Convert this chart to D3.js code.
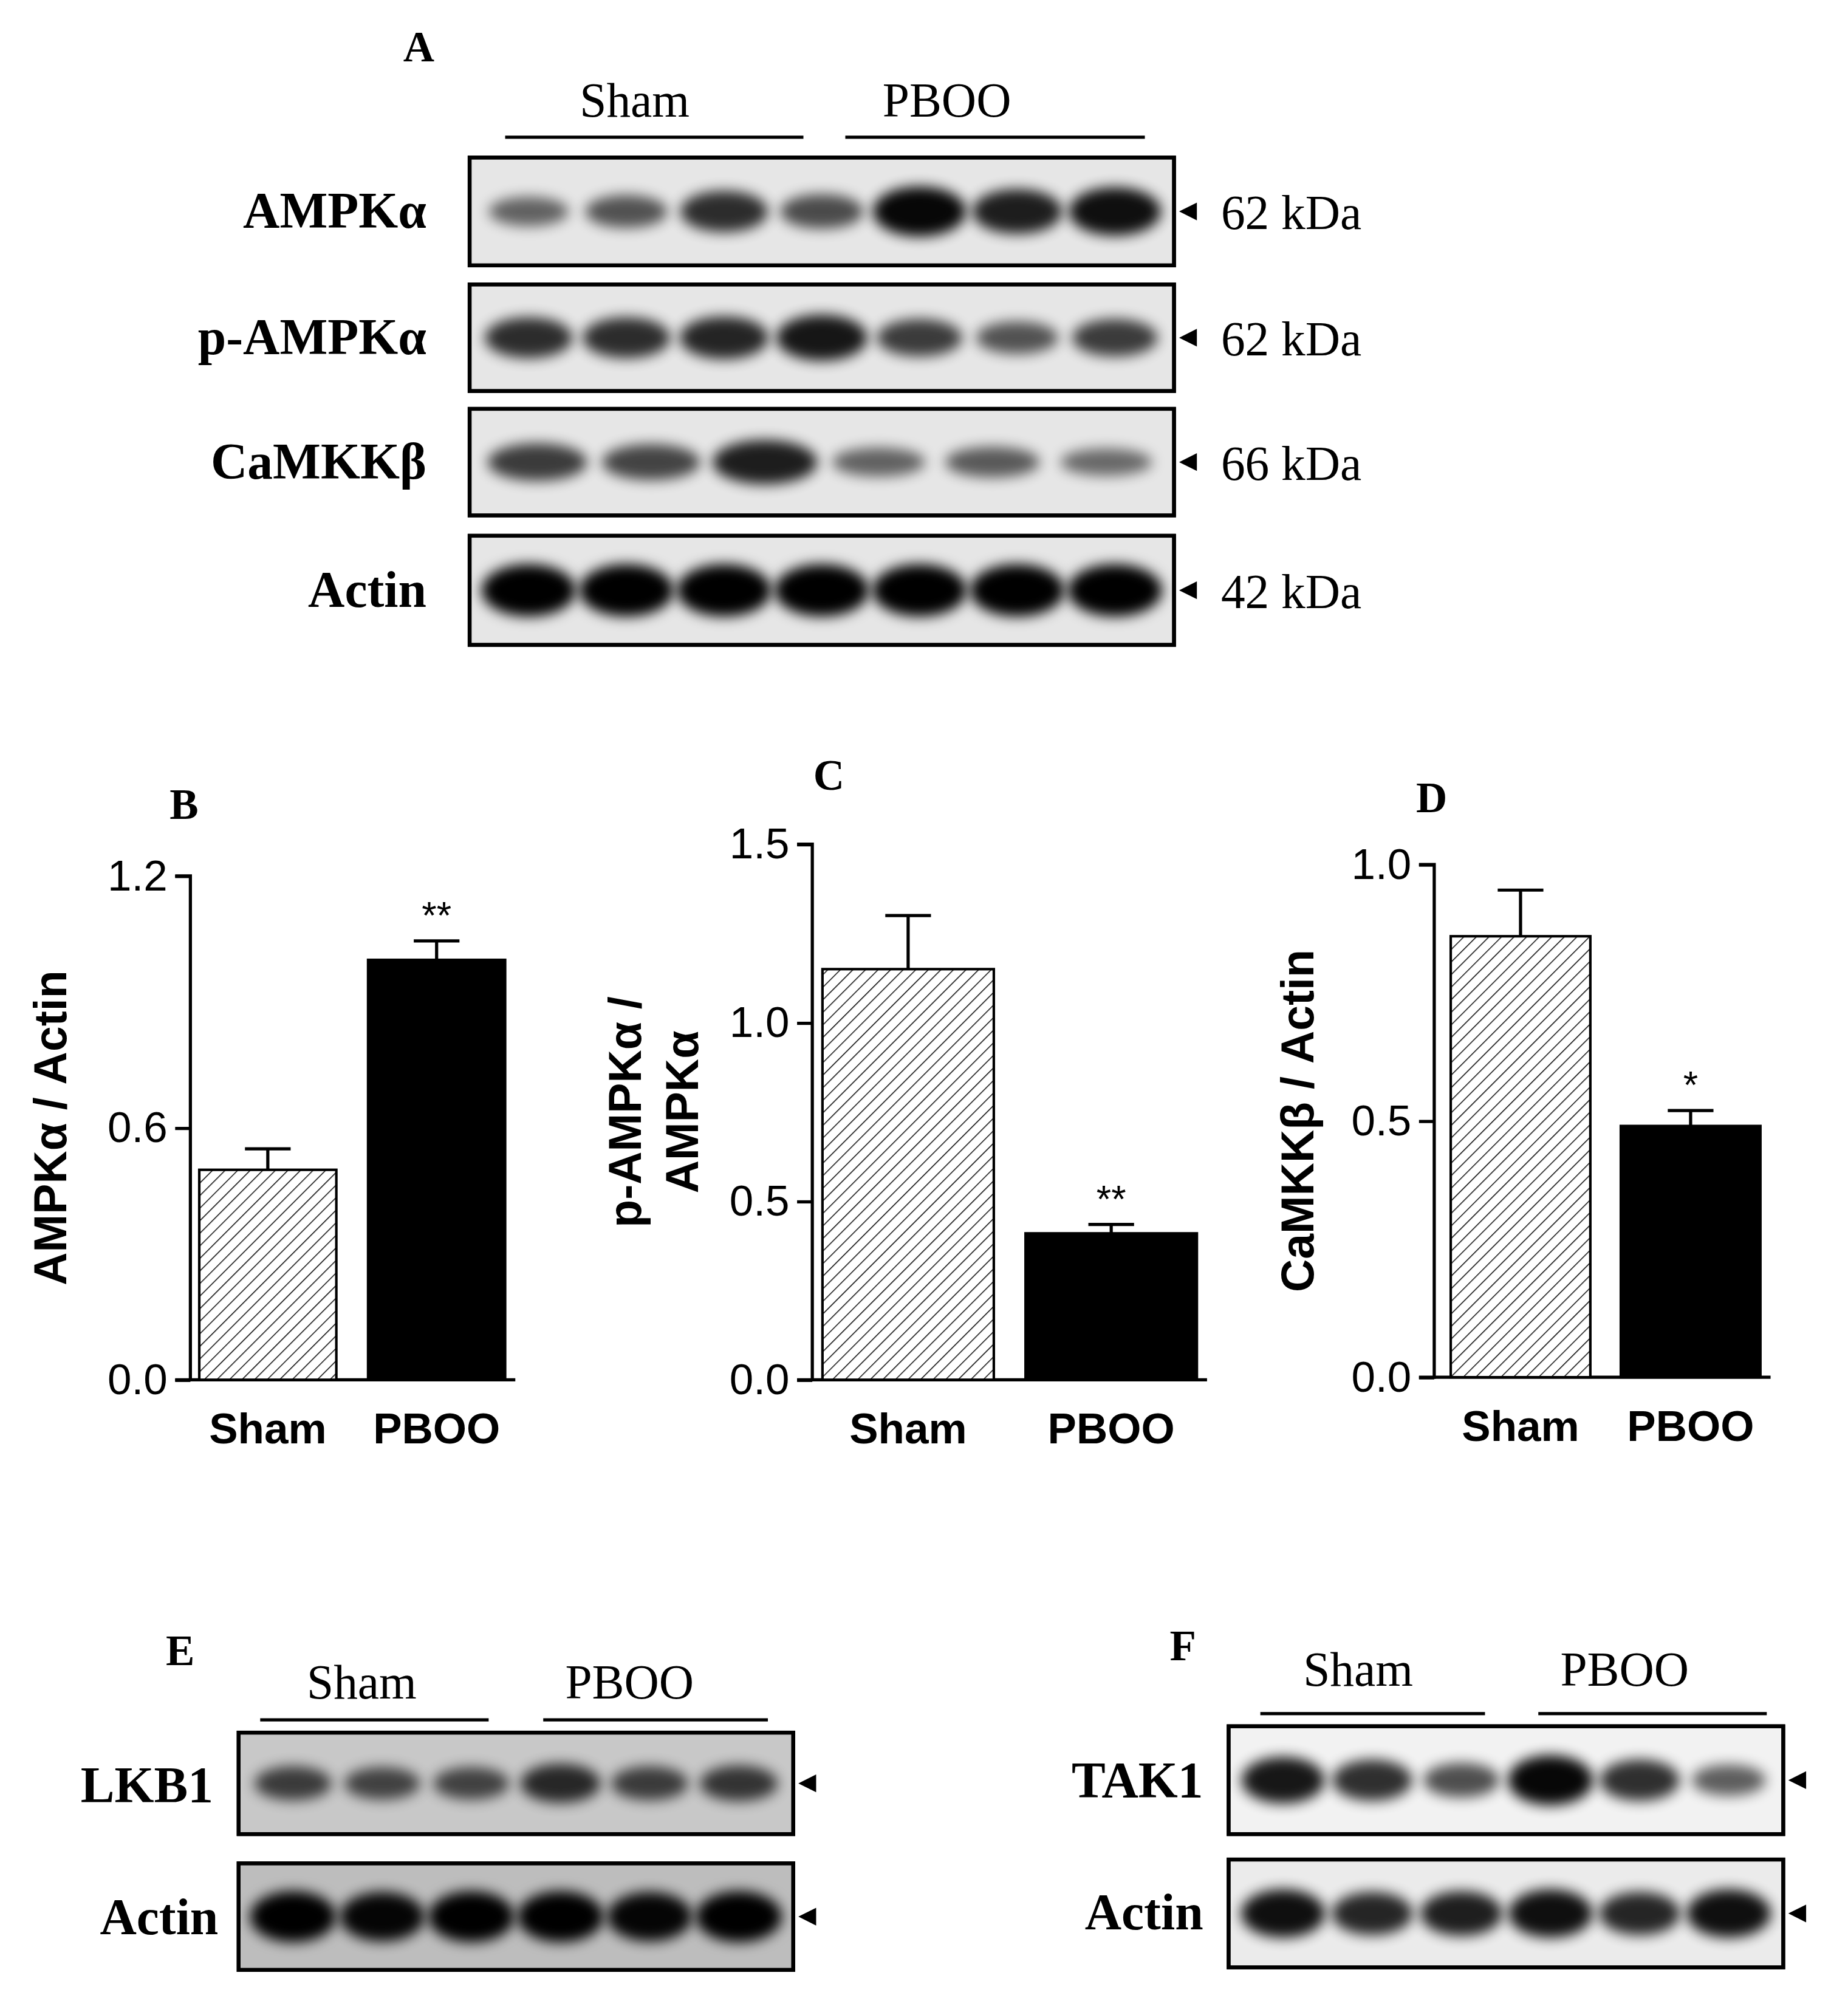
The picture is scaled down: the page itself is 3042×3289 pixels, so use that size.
<!DOCTYPE html>
<html>
<head>
<meta charset="utf-8">
<script src="https://d3js.org/d3.v7.min.js"></script>
<style>
body{margin:0;background:#fff;}
text.serif{font-family:"Liberation Serif","Times New Roman",serif;}
text.sans{font-family:"Liberation Sans",Arial,sans-serif;}
</style>
</head>
<body>
<script>
// ---- data ----
const groups = ["Sham", "PBOO"];
const panelB = {letter:"B", label:["AMPKα / Actin"], ticks:[0.0,0.6,1.2], max:1.2, means:[0.5,1.0], errs:[0.05,0.045], stars:["","**"]};
const panelC = {letter:"C", label:["p-AMPKα /","AMPKα"], ticks:[0.0,0.5,1.0,1.5], max:1.5, means:[1.15,0.41], errs:[0.15,0.025], stars:["","**"]};
const panelD = {letter:"D", label:["CaMKKβ / Actin"], ticks:[0.0,0.5,1.0], max:1.0, means:[0.86,0.49], errs:[0.09,0.03], stars:["","*"]};
const blotA = ["AMPKα","p-AMPKα","CaMKKβ","Actin"];
const blotAkDa = ["62 kDa","62 kDa","66 kDa","42 kDa"];
const bandsA = [
  [0.35,0.45,0.7,0.5,0.95,0.8,0.9],
  [0.7,0.7,0.75,0.85,0.6,0.45,0.6],
  [0.6,0.55,0.8,0.35,0.4,0.3],
  [1,1,1,1,1,1,1]
];
const blotE = ["LKB1","Actin"];
const bandsE = [[0.55,0.5,0.5,0.7,0.55,0.6],[1,0.95,1,1,0.95,1]];
const blotF = ["TAK1","Actin"];
const bandsF = [[0.85,0.7,0.5,0.95,0.7,0.4],[0.9,0.75,0.8,0.9,0.75,0.9]];

const W = 1456, H = 1574;
const svg = d3.select("body").append("svg")
  .attr("width", 3042).attr("height", 3289)
  .attr("viewBox", `0 0 ${W} ${H}`);

const defs = svg.append("defs");
defs.append("filter").attr("id","blur").attr("x","-30%").attr("y","-100%").attr("width","160%").attr("height","300%")
  .append("feGaussianBlur").attr("stdDeviation", 5);
const pat = defs.append("pattern").attr("id","hatch").attr("patternUnits","userSpaceOnUse")
  .attr("width",7).attr("height",7).attr("patternTransform","rotate(45)");
pat.append("rect").attr("width",7).attr("height",7).attr("fill","#fff");
pat.append("line").attr("x1",0).attr("y1",0).attr("x2",0).attr("y2",7).attr("stroke","#000").attr("stroke-width",1.4);

function txt(x, y, s, size, cls, anchor="middle", weight="normal"){
  return svg.append("text").attr("class",cls).attr("x",x).attr("y",y)
    .attr("text-anchor",anchor).attr("font-size",size).attr("font-weight",weight).text(s);
}

function blot(x0, x1, y0, y1, bands, bg){
  const g = svg.append("g");
  g.append("rect").attr("x",x0).attr("y",y0).attr("width",x1-x0).attr("height",y1-y0)
    .attr("fill",bg).attr("stroke","#000").attr("stroke-width",3);
  const xs = d3.scaleBand().domain(d3.range(bands.length)).range([x0+5,x1-5]).padding(0.08);
  const cy = (y0+y1)/2;
  g.selectAll("ellipse").data(bands).join("ellipse")
    .attr("cx", (d,i)=>xs(i)+xs.bandwidth()/2).attr("cy", cy)
    .attr("rx", d=>xs.bandwidth()/2*(0.8+0.25*d))
    .attr("ry", d=>(y1-y0)*(0.08+0.16*d))
    .attr("fill","#000").attr("opacity", d=>0.35+0.65*d)
    .attr("filter","url(#blur)");
  g.append("rect").attr("x",x0).attr("y",y0).attr("width",x1-x0).attr("height",y1-y0)
    .attr("fill","none").attr("stroke","#000").attr("stroke-width",3);
  // arrowhead
  svg.append("path").attr("d",`M${x1+4},${cy} l14,-7 v14 z`).attr("fill","#000");
}

// ---- panel A ----
txt(330, 48, "A", 34, "serif", "middle", "bold");
txt(500, 92, groups[0], 38, "serif");
txt(746, 92, groups[1], 38, "serif");
svg.append("line").attr("x1",398).attr("x2",633).attr("y1",108).attr("y2",108).attr("stroke","#000").attr("stroke-width",2.5);
svg.append("line").attr("x1",666).attr("x2",902).attr("y1",108).attr("y2",108).attr("stroke","#000").attr("stroke-width",2.5);
const rowsA = [[124,209],[224,308],[322,406],[422,508]];
rowsA.forEach((r,i)=>{
  blot(370, 925, r[0], r[1], bandsA[i], "#e6e6e6");
  txt(336, (r[0]+r[1])/2+13, blotA[i], 40, "serif", "end", "bold");
  txt(962, (r[0]+r[1])/2+14, blotAkDa[i], 38, "serif", "start");
});

// ---- bar panels ----
function barPanel(p, ax, y0, yTop, barX, barW, gap, labelX, letterX, letterY){
  const y = d3.scaleLinear().domain([0,p.max]).range([y0,yTop]);
  const g = svg.append("g");
  g.append("g").attr("transform",`translate(${ax},0)`)
    .call(d3.axisLeft(y).tickValues(p.ticks).tickFormat(d3.format(".1f")).tickSize(12).tickPadding(6))
    .call(s=>{
      s.select(".domain").attr("stroke-width",2.5).attr("d",`M-12,${yTop}H0V${y0}H-12`);
      s.selectAll(".tick line").attr("stroke-width",2.5);
      s.selectAll(".tick text").attr("class","sans").attr("font-size",34).attr("fill","#000");
    });
  g.append("line").attr("x1",ax).attr("x2",barX+2*barW+gap+8).attr("y1",y0).attr("y2",y0).attr("stroke","#000").attr("stroke-width",2.5);
  p.means.forEach((m,i)=>{
    const bx = barX + i*(barW+gap);
    const cx = bx + barW/2;
    g.append("line").attr("x1",cx).attr("x2",cx).attr("y1",y(m)).attr("y2",y(m+p.errs[i])).attr("stroke","#000").attr("stroke-width",2.5);
    g.append("line").attr("x1",cx-18).attr("x2",cx+18).attr("y1",y(m+p.errs[i])).attr("y2",y(m+p.errs[i])).attr("stroke","#000").attr("stroke-width",2.5);
    g.append("rect").attr("x",bx).attr("y",y(m)).attr("width",barW).attr("height",y0-y(m))
      .attr("fill", i===0 ? "url(#hatch)" : "#000").attr("stroke","#000").attr("stroke-width",2);
    if(p.stars[i]) txt(cx, y(m+p.errs[i])-10, p.stars[i], 30, "sans");
    txt(cx, y0+50, groups[i], 34, "sans", "middle", "bold");
  });
  txt(letterX, letterY, p.letter, 34, "serif", "middle", "bold");
  const lines = p.label;
  lines.forEach((l,k)=>{
    const lx = labelX + (k - (lines.length-1)/2)*42*-1;
    svg.append("text").attr("class","sans").attr("font-size",36).attr("font-weight","bold")
      .attr("text-anchor","middle").attr("transform",`translate(${labelX + k*45},${(y0+yTop)/2}) rotate(-90)`).text(l);
  });
}
barPanel(panelB, 150, 1087, 690, 157, 108, 25, 52, 145, 645);
barPanel(panelC, 640, 1087, 665, 648, 135, 25, 505, 653, 622);
barPanel(panelD, 1130, 1085, 681, 1143, 110, 24, 1035, 1128, 640);

// ---- panel E ----
txt(142, 1312, "E", 34, "serif", "middle", "bold");
txt(285, 1338, groups[0], 38, "serif");
txt(496, 1338, groups[1], 38, "serif");
svg.append("line").attr("x1",205).attr("x2",385).attr("y1",1355).attr("y2",1355).attr("stroke","#000").attr("stroke-width",2.5);
svg.append("line").attr("x1",428).attr("x2",605).attr("y1",1355).attr("y2",1355).attr("stroke","#000").attr("stroke-width",2.5);
blot(188, 625, 1365, 1445, bandsE[0], "#c8c8c8");
blot(188, 625, 1468, 1552, bandsE[1], "#bdbdbd");
txt(168, 1420, blotE[0], 40, "serif", "end", "bold");
txt(172, 1524, blotE[1], 40, "serif", "end", "bold");

// ---- panel F ----
txt(932, 1308, "F", 34, "serif", "middle", "bold");
txt(1070, 1328, groups[0], 38, "serif");
txt(1280, 1328, groups[1], 38, "serif");
svg.append("line").attr("x1",993).attr("x2",1170).attr("y1",1350).attr("y2",1350).attr("stroke","#000").attr("stroke-width",2.5);
svg.append("line").attr("x1",1212).attr("x2",1392).attr("y1",1350).attr("y2",1350).attr("stroke","#000").attr("stroke-width",2.5);
blot(968, 1405, 1360, 1445, bandsF[0], "#f2f2f2");
blot(968, 1405, 1465, 1550, bandsF[1], "#ebebeb");
txt(948, 1416, blotF[0], 40, "serif", "end", "bold");
txt(948, 1520, blotF[1], 40, "serif", "end", "bold");
</script>
</body>
</html>
